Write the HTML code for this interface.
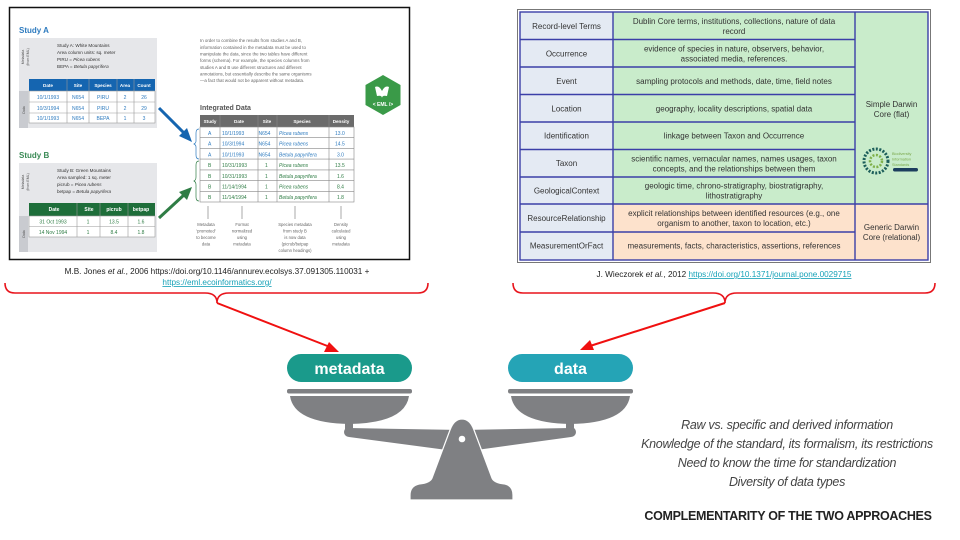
<!DOCTYPE html>
<html><head><meta charset="utf-8"><style>
html,body{margin:0;padding:0;background:#fff;}
svg{display:block;}
text{font-family:"Liberation Sans",sans-serif;}
</style></head><body>
<svg width="960" height="540" viewBox="0 0 960 540" xmlns="http://www.w3.org/2000/svg">
<rect x="9.5" y="7.5" width="400" height="252" fill="#fff" stroke="#111" stroke-width="1.5"/>
<text x="19" y="33" font-size="8" font-weight="bold" fill="#2e7bbf">Study A</text>
<rect x="19" y="38" width="138" height="90" fill="#e6e7ea"/>
<rect x="19" y="91" width="9" height="37" fill="#c9cbd0"/>
<text transform="translate(24,57) rotate(-90)" font-size="3.5" fill="#555" text-anchor="middle">Metadata</text>
<text transform="translate(29,57) rotate(-90)" font-size="3.5" fill="#555" text-anchor="middle">(from EML)</text>
<text transform="translate(25,110) rotate(-90)" font-size="3.5" fill="#555" text-anchor="middle">Data</text>
<g font-size="4.6" fill="#333">
<text x="57" y="47">Study A:  White Mountains</text>
<text x="57" y="54">Area column units: sq. meter</text>
<text x="57" y="61">PIRU = <tspan font-style="italic">Picea rubens</tspan></text>
<text x="57" y="68">BEPA = <tspan font-style="italic">Betula papyrifera</tspan></text>
</g>
<rect x="29" y="79" width="126" height="12" fill="#1565b0"/>
<g font-size="4.6" fill="#fff" font-weight="bold" text-anchor="middle">
<text x="48" y="87">Date</text><text x="78" y="87">Site</text><text x="103" y="87">Species</text><text x="125" y="87">Area</text><text x="144" y="87">Count</text>
</g>
<rect x="29" y="91" width="126" height="32" fill="#fff" stroke="#999" stroke-width="0.6"/>
<g stroke="#999" stroke-width="0.6"><line x1="29" y1="102" x2="155" y2="102"/><line x1="29" y1="113" x2="155" y2="113"/>
<line x1="67" y1="79" x2="67" y2="123"/><line x1="89" y1="79" x2="89" y2="123"/><line x1="117" y1="79" x2="117" y2="123"/><line x1="134" y1="79" x2="134" y2="123"/></g>
<g font-size="5" fill="#2e7bbf" text-anchor="middle">
<text x="48" y="99">10/1/1993</text><text x="78" y="99">N654</text><text x="103" y="99">PIRU</text><text x="125" y="99">2</text><text x="144" y="99">26</text>
<text x="48" y="110">10/3/1994</text><text x="78" y="110">N654</text><text x="103" y="110">PIRU</text><text x="125" y="110">2</text><text x="144" y="110">29</text>
<text x="48" y="120">10/1/1993</text><text x="78" y="120">N654</text><text x="103" y="120">BEPA</text><text x="125" y="120">1</text><text x="144" y="120">3</text>
</g>
<text x="19" y="158" font-size="8" font-weight="bold" fill="#3a8a55">Study B</text>
<rect x="19" y="163" width="138" height="89" fill="#e6e7ea"/>
<rect x="19" y="216" width="9" height="36" fill="#c9cbd0"/>
<text transform="translate(24,182) rotate(-90)" font-size="3.5" fill="#555" text-anchor="middle">Metadata</text>
<text transform="translate(29,182) rotate(-90)" font-size="3.5" fill="#555" text-anchor="middle">(from EML)</text>
<text transform="translate(25,234) rotate(-90)" font-size="3.5" fill="#555" text-anchor="middle">Data</text>
<g font-size="4.6" fill="#333">
<text x="57" y="172">Study B: Green Mountains</text>
<text x="57" y="179">Area sampled: 1 sq. meter</text>
<text x="57" y="186">picrub = <tspan font-style="italic">Picea rubens</tspan></text>
<text x="57" y="193">betpap = <tspan font-style="italic">Betula papyrifera</tspan></text>
</g>
<rect x="29" y="203" width="126" height="13" fill="#1e6e3a"/>
<g font-size="5" fill="#fff" font-weight="bold" text-anchor="middle">
<text x="54" y="211">Date</text><text x="89" y="211">Site</text><text x="114" y="211">picrub</text><text x="141" y="211">betpap</text>
</g>
<rect x="29" y="216" width="126" height="21" fill="#fff" stroke="#999" stroke-width="0.6"/>
<g stroke="#999" stroke-width="0.6"><line x1="29" y1="226.5" x2="155" y2="226.5"/>
<line x1="77" y1="203" x2="77" y2="237"/><line x1="100" y1="203" x2="100" y2="237"/><line x1="128" y1="203" x2="128" y2="237"/></g>
<g font-size="5" fill="#2f7d45" text-anchor="middle">
<text x="53" y="223.5">31 Oct 1993</text><text x="88" y="223.5">1</text><text x="114" y="223.5">13.5</text><text x="141" y="223.5">1.6</text>
<text x="53" y="234">14 Nov 1994</text><text x="88" y="234">1</text><text x="114" y="234">8.4</text><text x="141" y="234">1.8</text>
</g>
<line x1="159" y1="108" x2="185" y2="134" stroke="#1565b0" stroke-width="3"/>
<polygon points="192,142 179,136 187,128" fill="#1565b0"/>
<line x1="159" y1="218" x2="185" y2="194" stroke="#2f7d45" stroke-width="3"/>
<polygon points="192,187 187,200 179,192" fill="#2f7d45"/>
<g font-size="4.4" fill="#666">
<text x="200" y="42">In order to combine the results from studies A and B,</text>
<text x="200" y="49">information contained in the metadata must be used to</text>
<text x="200" y="55.5">manipulate the data, since the two tables have different</text>
<text x="200" y="62">forms (schema). For example, the species columns from</text>
<text x="200" y="69">studies A and B use different structures and different</text>
<text x="200" y="75.5">annotations, but essentially describe the same organisms</text>
<text x="200" y="82">—a fact that would not be apparent without metadata.</text>
</g>
<polygon points="383,75 400.5,85 400.5,105 383,115 365.5,105 365.5,85" fill="#3a9a48"/>
<path d="M375,87 q4,-2 7,4 q3,-6 7,-4 l-2,9 q-5,-1 -5,2 q0,-3 -5,-2 z" fill="#fff"/>
<text x="383" y="106" font-size="5" fill="#fff" text-anchor="middle" font-weight="bold">&lt; EML /&gt;</text>
<text x="200" y="110" font-size="7" font-weight="bold" fill="#555">Integrated Data</text>
<rect x="200" y="115" width="154" height="12" fill="#6b6b6b"/>
<g font-size="4.6" fill="#fff" font-weight="bold" text-anchor="middle">
<text x="210" y="123">Study</text><text x="239" y="123">Date</text><text x="267" y="123">Site</text><text x="302" y="123">Species</text><text x="341" y="123">Density</text>
</g>
<rect x="200" y="127" width="154" height="75" fill="#fff" stroke="#888" stroke-width="0.6"/>
<g stroke="#888" stroke-width="0.6">
<line x1="200" y1="137.7" x2="354" y2="137.7"/><line x1="200" y1="148.4" x2="354" y2="148.4"/><line x1="200" y1="159.1" x2="354" y2="159.1"/><line x1="200" y1="169.9" x2="354" y2="169.9"/><line x1="200" y1="180.6" x2="354" y2="180.6"/><line x1="200" y1="191.3" x2="354" y2="191.3"/>
<line x1="220" y1="115" x2="220" y2="202"/><line x1="258" y1="115" x2="258" y2="202"/><line x1="277" y1="115" x2="277" y2="202"/><line x1="329" y1="115" x2="329" y2="202"/></g>
<g font-size="5" fill="#2e7bbf">
<text x="208" y="135">A</text><text x="222" y="135">10/1/1993</text><text x="258.5" y="135">N654</text><text x="279" y="135" font-style="italic">Picea rubens</text><text x="335" y="135">13.0</text>
<text x="208" y="145.5">A</text><text x="222" y="145.5">10/3/1994</text><text x="258.5" y="145.5">N654</text><text x="279" y="145.5" font-style="italic">Picea rubens</text><text x="335" y="145.5">14.5</text>
<text x="208" y="156.3">A</text><text x="222" y="156.3">10/1/1993</text><text x="258.5" y="156.3">N654</text><text x="279" y="156.3" font-style="italic">Betula papyrifera</text><text x="337" y="156.3">3.0</text>
</g>
<g font-size="5" fill="#2f7d45">
<text x="208" y="167">B</text><text x="222" y="167">10/31/1993</text><text x="265" y="167">1</text><text x="279" y="167" font-style="italic">Picea rubens</text><text x="335" y="167">13.5</text>
<text x="208" y="177.8">B</text><text x="222" y="177.8">10/31/1993</text><text x="265" y="177.8">1</text><text x="279" y="177.8" font-style="italic">Betula papyrifera</text><text x="337" y="177.8">1.6</text>
<text x="208" y="188.5">B</text><text x="222" y="188.5">11/14/1994</text><text x="265" y="188.5">1</text><text x="279" y="188.5" font-style="italic">Picea rubens</text><text x="337" y="188.5">8.4</text>
<text x="208" y="199.2">B</text><text x="222" y="199.2">11/14/1994</text><text x="265" y="199.2">1</text><text x="279" y="199.2" font-style="italic">Betula papyrifera</text><text x="337" y="199.2">1.8</text>
</g>
<path d="M199,129 q-3,0 -3,4 v8 q0,2 -2,3 q2,1 2,3 v8 q0,4 3,4" fill="none" stroke="#2e7bbf" stroke-width="0.7"/>
<path d="M199,161 q-3,0 -3,4 v12 q0,3 -2,4 q2,1 2,4 v12 q0,4 3,4" fill="none" stroke="#2f7d45" stroke-width="0.7"/>
<g stroke="#555" stroke-width="0.5"><line x1="208" y1="206" x2="208" y2="219"/><line x1="242" y1="206" x2="242" y2="219"/><line x1="295" y1="206" x2="295" y2="219"/><line x1="341" y1="206" x2="341" y2="219"/></g>
<g font-size="4.2" fill="#666" text-anchor="middle">
<text x="206" y="226">Metadata</text><text x="206" y="232.5">'promoted'</text><text x="206" y="239">to become</text><text x="206" y="245.5">data</text>
<text x="242" y="226">Format</text><text x="242" y="232.5">normalized</text><text x="242" y="239">using</text><text x="242" y="245.5">metadata</text>
<text x="295" y="226">Species metadata</text><text x="295" y="232.5">from study B</text><text x="295" y="239">is now data</text><text x="295" y="245.5">(picrub/betpap</text><text x="295" y="252">column headings)</text>
<text x="341" y="226">Density</text><text x="341" y="232.5">calculated</text><text x="341" y="239">using</text><text x="341" y="245.5">metadata</text>
</g>
<text x="217" y="274" font-size="8.2" fill="#222" text-anchor="middle">M.B. Jones <tspan font-style="italic">et al.</tspan>, 2006 https://doi.org/10.1146/annurev.ecolsys.37.091305.110031 +</text>
<text x="217" y="285" font-size="8.2" fill="#17a2b8" text-anchor="middle" text-decoration="underline">https://eml.ecoinformatics.org/</text>

<rect x="517.5" y="9.5" width="413" height="253" fill="#fff" stroke="#777" stroke-width="1"/>
<rect x="520" y="12" width="93" height="248" fill="#e4eaf3"/>
<rect x="613" y="12" width="315" height="192" fill="#c9eccb"/>
<rect x="613" y="204" width="242" height="56" fill="#fde2cc"/>
<rect x="855" y="204" width="73" height="56" fill="#fde2cc"/>
<g stroke="#3b3fa8" stroke-width="1.4" fill="none">
<rect x="520" y="12" width="408" height="248"/>
<line x1="613" y1="12" x2="613" y2="260"/><line x1="855" y1="12" x2="855" y2="260"/>
<line x1="520" y1="39.5" x2="855" y2="39.5"/><line x1="520" y1="67" x2="855" y2="67"/><line x1="520" y1="94.5" x2="855" y2="94.5"/><line x1="520" y1="122" x2="855" y2="122"/><line x1="520" y1="149.5" x2="855" y2="149.5"/><line x1="520" y1="177" x2="855" y2="177"/><line x1="520" y1="204" x2="928" y2="204"/><line x1="520" y1="232" x2="855" y2="232"/>
</g>
<g font-size="8" fill="#333" text-anchor="middle">
<text x="566.5" y="29">Record-level Terms</text>
<text x="566.5" y="56.5">Occurrence</text>
<text x="566.5" y="84">Event</text>
<text x="566.5" y="111.5">Location</text>
<text x="566.5" y="138.5">Identification</text>
<text x="566.5" y="166">Taxon</text>
<text x="566.5" y="193.5">GeologicalContext</text>
<text x="566.5" y="221">ResourceRelationship</text>
<text x="566.5" y="248.5">MeasurementOrFact</text>
<text x="734" y="24">Dublin Core terms, institutions, collections, nature of data</text><text x="734" y="34">record</text>
<text x="734" y="51.5">evidence of species in nature, observers, behavior,</text><text x="734" y="61.5">associated media, references.</text>
<text x="734" y="84">sampling protocols and methods, date, time, field notes</text>
<text x="734" y="111.5">geography, locality descriptions, spatial data</text>
<text x="734" y="138.5">linkage between Taxon and Occurrence</text>
<text x="734" y="161.5">scientific names, vernacular names, names usages, taxon</text><text x="734" y="171.5">concepts, and the relationships between them</text>
<text x="734" y="188.5">geologic time, chrono-stratigraphy, biostratigraphy,</text><text x="734" y="198.5">lithostratigraphy</text>
<text x="734" y="216">explicit relationships between identified resources (e.g., one</text><text x="734" y="226">organism to another, taxon to location, etc.)</text>
<text x="734" y="248.5">measurements, facts, characteristics, assertions, references</text>
<text x="891.5" y="107">Simple Darwin</text><text x="891.5" y="117">Core (flat)</text>
<text x="891.5" y="230">Generic Darwin</text><text x="891.5" y="240">Core (relational)</text>
</g>
<circle cx="876" cy="161" r="12" fill="none" stroke="#1c5e5a" stroke-width="3" stroke-dasharray="2 1.5"/>
<circle cx="876" cy="161" r="6" fill="none" stroke="#7fb04a" stroke-width="2.5" stroke-dasharray="2 1.5"/>
<g font-size="3.8" fill="#7aa84a"><text x="892" y="155">Biodiversity</text><text x="892" y="160.5">Information</text><text x="892" y="166">Standards</text></g>
<rect x="893" y="168" width="25" height="3.5" rx="1.7" fill="#1c3e5e"/>
<text x="724" y="277" font-size="8.2" fill="#222" text-anchor="middle">J. Wieczorek <tspan font-style="italic">et al.</tspan>, 2012 <tspan fill="#17a2b8" text-decoration="underline">https://doi.org/10.1371/journal.pone.0029715</tspan></text>

<g fill="none" stroke="#e8141c" stroke-width="1.6">
<path d="M5,283 q0,10 10,10 H205 q12,0 12,10 q0,-10 12,-10 H418 q10,0 10,-10"/>
<path d="M513,283 q0,10 10,10 H713 q12,0 12,10 q0,-10 12,-10 H925 q10,0 10,-10"/>
</g>
<g stroke="#f01010" stroke-width="2" fill="#f01010">
<line x1="217" y1="303" x2="330" y2="347"/>
<polygon points="339,352 324,352 329,342" stroke="none"/>
<line x1="725" y1="303" x2="590" y2="346"/>
<polygon points="580,350 590,340 594,350" stroke="none"/>
</g>

<rect x="287" y="354" width="125" height="28" rx="14" fill="#1a9a8b"/>
<text x="349.5" y="374" font-size="16" fill="#fff" text-anchor="middle" font-weight="bold">metadata</text>
<rect x="508" y="354" width="125" height="28" rx="14" fill="#25a4b6"/>
<text x="570.5" y="374" font-size="16" fill="#fff" text-anchor="middle" font-weight="bold">data</text>
<g fill="#7f8083">
<rect x="287" y="389" width="125" height="4.5" rx="2"/>
<rect x="508" y="389" width="125" height="4.5" rx="2"/>
<path d="M290,396 H409 Q405,423 349.5,424 Q294,423 290,396 Z"/>
<path d="M511,396 H630 Q626,423 570.5,424 Q515,423 511,396 Z"/>
<rect x="345" y="420" width="8" height="12"/>
<rect x="566" y="420" width="8" height="12"/>
<circle cx="349" cy="432" r="5"/>
<circle cx="571" cy="432" r="5"/>
<polygon points="349,428 462,430 571,428 571,437 462,452 349,437"/>
<path d="M462,419 Q470,419 474,430 L492,478 Q494,483 505,484 Q513,486 513,495 V500 H410 V495 Q410,486 419,484 Q430,483 432,478 L450,430 Q454,419 462,419 Z" stroke="#fff" stroke-width="1.2"/>
<circle cx="462" cy="439" r="3.3" fill="#fff"/>
</g>
<g font-size="12.5" fill="#444" font-style="italic" text-anchor="middle" style="letter-spacing:-0.3px">
<text x="787" y="429">Raw vs. specific and derived information</text>
<text x="787" y="448">Knowledge of the standard, its formalism, its restrictions</text>
<text x="787" y="467">Need to know the time for standardization</text>
<text x="787" y="486">Diversity of data types</text>
</g>
<text x="788" y="520" font-size="12.5" fill="#222" font-weight="bold" text-anchor="middle" style="letter-spacing:-0.3px">COMPLEMENTARITY OF THE TWO APPROACHES</text>
</svg>
</body></html>
